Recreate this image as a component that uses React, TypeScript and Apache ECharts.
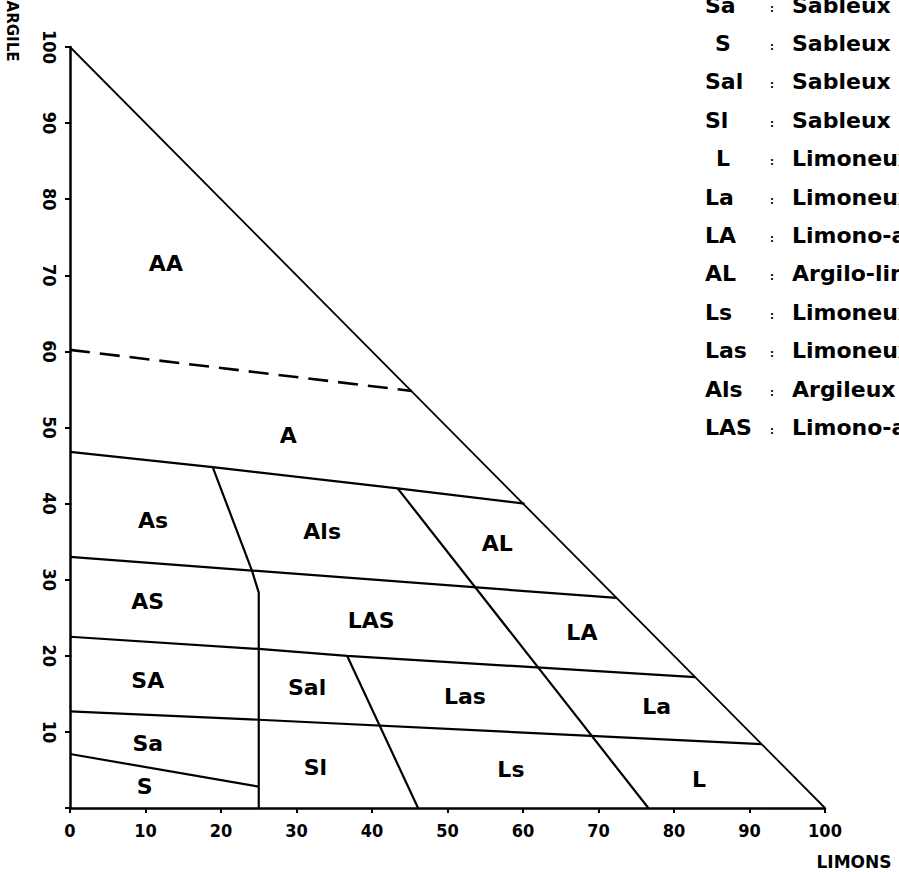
import { useEffect, useRef } from "react";
import * as echarts from "echarts";

// Boundaries of the texture classes: [LIMONS %, ARGILE %]
const hypotenuse = [[0, 100], [100, 0]];
const dashedAA = [[0, 60.2], [45.3, 54.8]];
const line47 = [[0, 46.8], [18.9, 44.8], [43.4, 42.0], [60.2, 40.0]];
const line33 = [[0, 33.0], [24.1, 31.2], [72.4, 27.6]];
const line22 = [[0, 22.5], [25, 20.9], [36.7, 20.0], [82.8, 17.2]];
const line12 = [[0, 12.7], [25, 11.6], [91.6, 8.4]];
const line7 = [[0, 7.1], [25, 2.8]];
const sandColumn = [[18.9, 44.8], [24.1, 31.2], [25, 28.3], [25, 0]];
const lineLsLas = [[36.7, 20.0], [46.1, 0]];
const lineL = [[43.4, 42.0], [76.6, 0]];

const regionCodes = ["AA", "A", "As", "Als", "AL", "AS", "LAS", "LA", "SA", "Sal", "Las", "La", "Sa", "Sl", "Ls", "L", "S"];
const regionLimons = [12.7, 28.9, 11.0, 33.4, 56.6, 10.3, 39.9, 67.8, 10.3, 31.4, 52.3, 77.7, 10.3, 32.5, 58.4, 83.3, 9.9];
const regionArgile = [71.5, 49.0, 37.8, 36.3, 34.8, 27.2, 24.7, 23.0, 16.8, 15.9, 14.6, 13.4, 8.5, 5.3, 5.0, 3.8, 2.8];

const legendCodes = ["Sa", "S", "Sal", "Sl", "L", "La", "LA", "AL", "Ls", "Las", "Als", "LAS"];
const legendNames = [
  "Sableux argileux",
  "Sableux",
  "Sableux argilo-limoneux",
  "Sableux limoneux",
  "Limoneux",
  "Limoneux argileux",
  "Limono-argileux",
  "Argilo-limoneux",
  "Limoneux sableux",
  "Limoneux argilo-sableux",
  "Argileux limono-sableux",
  "Limono-argilo-sableux",
];

const BOLD_FONT = "'DejaVu Sans', 'Liberation Sans', Arial, sans-serif";
const NARROW_FONT = "'Liberation Sans Narrow', 'DejaVu Sans Condensed', 'Liberation Sans', sans-serif";

export default function App() {
  const ref = useRef<HTMLDivElement>(null);
  useEffect(() => {
    if (!ref.current) return;
    const chart = echarts.init(ref.current, null, { renderer: "svg" });
    const line = (data: number[][], extra: any = {}) => ({
      type: "line",
      data,
      symbol: "none",
      silent: true,
      z: 3,
      lineStyle: { color: "#000", width: 2.2, ...extra },
    });
    const axisCommon = {
      type: "value",
      min: 0,
      max: 100,
      interval: 10,
      splitLine: { show: false },
      axisLine: { show: true, onZero: false, lineStyle: { color: "#000", width: 2.5 } },
      axisTick: { show: true, length: 5, lineStyle: { color: "#000", width: 2 } },
    };
    const legendGraphics: any[] = [];
    legendCodes.forEach((code, i) => {
      const y = 5 + i * 38.4;
      const single = code.length === 1;
      legendGraphics.push({
        type: "text",
        x: single ? 723 : 705,
        y,
        style: {
          text: code,
          font: `bold 22px ${BOLD_FONT}`,
          fill: "#000",
          textAlign: single ? "center" : "left",
          textVerticalAlign: "middle",
        },
      });
      legendGraphics.push({
        type: "text",
        x: 772,
        y: y + 3,
        style: { text: ":", font: `bold 10px ${BOLD_FONT}`, fill: "#000", textAlign: "center", textVerticalAlign: "middle" },
      });
      legendGraphics.push({
        type: "text",
        x: 792,
        y,
        style: {
          text: legendNames[i],
          font: `bold 22px ${BOLD_FONT}`,
          fill: "#000",
          textAlign: "left",
          textVerticalAlign: "middle",
        },
      });
    });

    chart.setOption({
      animation: false,
      backgroundColor: "#fff",
      grid: { left: 70, top: 47, width: 755, height: 761, containLabel: false },
      xAxis: {
        ...axisCommon,
        axisLabel: { color: "#000", fontSize: 18, fontWeight: "bold", fontFamily: NARROW_FONT, margin: 13 },
      },
      yAxis: {
        ...axisCommon,
        axisLabel: {
          color: "#000",
          fontSize: 18,
          fontWeight: "bold",
          fontFamily: NARROW_FONT,
          margin: 12,
          rotate: -90,
          formatter: (v: number) => (v === 0 ? "" : String(v)),
        },
      },
      graphic: [
        {
          type: "text",
          x: 12,
          y: 31,
          rotation: -Math.PI / 2,
          style: { text: "ARGILE", font: `bold 15px ${BOLD_FONT}`, fill: "#000", textAlign: "center", textVerticalAlign: "middle" },
        },
        {
          type: "text",
          x: 854,
          y: 862,
          style: { text: "LIMONS", font: `bold 17px ${BOLD_FONT}`, fill: "#000", textAlign: "center", textVerticalAlign: "middle" },
        },
        ...legendGraphics,
      ],
      series: [
        line(hypotenuse, { width: 1.8 }),
        line(dashedAA, { width: 2.6, type: [20, 10] }),
        line(line47),
        line(line33),
        line(line22),
        line(line12),
        line(line7),
        line(sandColumn),
        line(lineLsLas),
        line(lineL),
        {
          type: "scatter",
          silent: true,
          symbolSize: 1,
          itemStyle: { color: "rgba(255,255,255,0)" },
          z: 4,
          data: regionCodes.map((c, i) => ({ name: c, value: [regionLimons[i], regionArgile[i]] })),
          label: {
            show: true,
            position: "inside",
            formatter: "{b}",
            color: "#000000",
            opacity: 1,
            textBorderWidth: 0,
            fontSize: 22,
            fontWeight: "bold",
            fontFamily: BOLD_FONT,
          },
        },
      ],
    });
    return () => chart.dispose();
  }, []);
  return (
    <div
      ref={ref}
      style={{ position: "fixed", left: 0, top: 0, width: 899, height: 872, background: "#fff" }}
    />
  );
}
